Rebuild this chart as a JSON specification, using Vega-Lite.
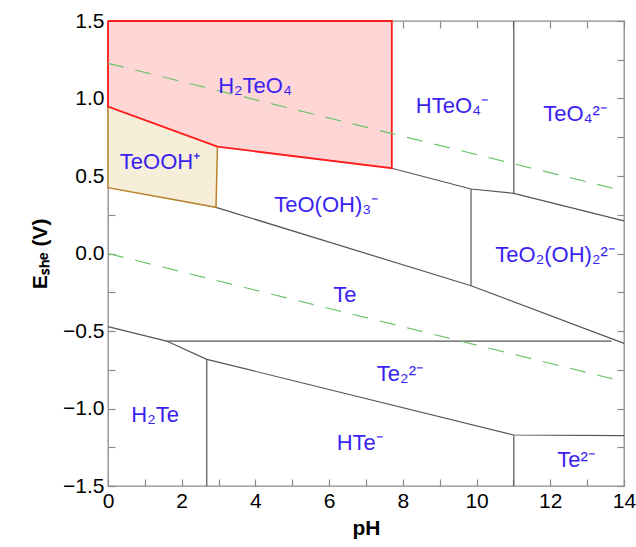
{
  "$schema": "https://vega.github.io/schema/vega-lite/v6.json",
  "width": 516,
  "height": 465,
  "autosize": {"type": "none"},
  "padding": {"left": 108, "top": 21, "right": 12, "bottom": 61},
  "config": {
    "font": "Liberation Sans",
    "view": {"stroke": "#8a8a8a", "strokeWidth": 1.3},
    "axis": {
      "grid": false,
      "domain": false,
      "tickColor": "#8a8a8a",
      "tickWidth": 1.2,
      "tickSize": 7,
      "offset": -7,
      "labelFlush": false,
      "labelFontSize": 21,
      "labelColor": "#000000",
      "labelFont": "Liberation Sans",
      "titleFont": "Liberation Sans",
      "titleFontSize": 21,
      "titleFontWeight": "bold",
      "titleColor": "#000000"
    }
  },
  "datasets": {
    "areas": [
      {"region": "H2TeO4", "pH": 0, "lo": 0.947, "hi": 1.5},
      {"region": "H2TeO4", "pH": 2.97, "lo": 0.689, "hi": 1.5},
      {"region": "H2TeO4", "pH": 7.7, "lo": 0.55, "hi": 1.5},
      {"region": "TeOOH", "pH": 0, "lo": 0.425, "hi": 0.947},
      {"region": "TeOOH", "pH": 2.95, "lo": 0.298, "hi": 0.689}
    ],
    "bounds": [
      {"seg": "g1", "kind": "gray", "i": 1, "pH": 2.93, "E": 0.298},
      {"seg": "g1", "kind": "gray", "i": 2, "pH": 9.85, "E": -0.208},
      {"seg": "g1", "kind": "gray", "i": 3, "pH": 14, "E": -0.58},
      {"seg": "g2", "kind": "gray", "i": 1, "pH": 9.85, "E": -0.208},
      {"seg": "g2", "kind": "gray", "i": 2, "pH": 9.85, "E": 0.416},
      {"seg": "g3", "kind": "gray", "i": 1, "pH": 7.7, "E": 0.55},
      {"seg": "g3", "kind": "gray", "i": 2, "pH": 9.85, "E": 0.416},
      {"seg": "g3", "kind": "gray", "i": 3, "pH": 11.01, "E": 0.388},
      {"seg": "g3", "kind": "gray", "i": 4, "pH": 14, "E": 0.21},
      {"seg": "g4", "kind": "gray", "i": 1, "pH": 11.01, "E": 0.388},
      {"seg": "g4", "kind": "gray", "i": 2, "pH": 11.01, "E": 1.5},
      {"seg": "g5", "kind": "gray", "i": 1, "pH": 1.59, "E": -0.565},
      {"seg": "g5", "kind": "gray", "i": 2, "pH": 13.66, "E": -0.565},
      {"seg": "g6", "kind": "gray", "i": 1, "pH": 0, "E": -0.472},
      {"seg": "g6", "kind": "gray", "i": 2, "pH": 1.59, "E": -0.565},
      {"seg": "g6", "kind": "gray", "i": 3, "pH": 2.68, "E": -0.683},
      {"seg": "g6", "kind": "gray", "i": 4, "pH": 11.01, "E": -1.171},
      {"seg": "g6", "kind": "gray", "i": 5, "pH": 14, "E": -1.175},
      {"seg": "g7", "kind": "gray", "i": 1, "pH": 2.68, "E": -0.683},
      {"seg": "g7", "kind": "gray", "i": 2, "pH": 2.68, "E": -1.5},
      {"seg": "g8", "kind": "gray", "i": 1, "pH": 11.01, "E": -1.171},
      {"seg": "g8", "kind": "gray", "i": 2, "pH": 11.01, "E": -1.5},
      {"seg": "b1", "kind": "brown", "i": 1, "pH": 2.97, "E": 0.689},
      {"seg": "b1", "kind": "brown", "i": 2, "pH": 2.93, "E": 0.298},
      {"seg": "b1", "kind": "brown", "i": 3, "pH": 0, "E": 0.425},
      {"seg": "b1", "kind": "brown", "i": 4, "pH": 0, "E": 0.947},
      {"seg": "r1", "kind": "red", "i": 1, "pH": 0, "E": 1.5},
      {"seg": "r1", "kind": "red", "i": 2, "pH": 0, "E": 0.947},
      {"seg": "r1", "kind": "red", "i": 3, "pH": 2.97, "E": 0.689},
      {"seg": "r1", "kind": "red", "i": 4, "pH": 7.7, "E": 0.55},
      {"seg": "r1", "kind": "red", "i": 5, "pH": 7.7, "E": 1.5},
      {"seg": "r1", "kind": "red", "i": 6, "pH": 0, "E": 1.5}
    ],
    "water": [
      {"line": "O2", "pH": 0, "E": 1.227},
      {"line": "O2", "pH": 14, "E": 0.403},
      {"line": "H2", "pH": 0, "E": 0.0},
      {"line": "H2", "pH": 14, "E": -0.827}
    ],
    "labels": [
      {"name": "H₂TeO₄", "pH": 3.99, "E": 1.08},
      {"name": "HTeO₄⁻", "pH": 9.33, "E": 0.95},
      {"name": "TeO₄²⁻", "pH": 12.67, "E": 0.9},
      {"name": "TeOOH⁺", "pH": 1.41, "E": 0.59},
      {"name": "TeO(OH)₃⁻", "pH": 5.92, "E": 0.31},
      {"name": "TeO₂(OH)₂²⁻", "pH": 12.13, "E": -0.01},
      {"name": "Te", "pH": 6.43, "E": -0.27},
      {"name": "Te₂²⁻", "pH": 7.92, "E": -0.78},
      {"name": "H₂Te", "pH": 1.28, "E": -1.04},
      {"name": "HTe⁻", "pH": 6.83, "E": -1.22},
      {"name": "Te²⁻", "pH": 12.7, "E": -1.33}
    ]
  },
  "layer": [
    {
      "data": {"name": "areas"},
      "mark": {"type": "area", "opacity": 1},
      "encoding": {
        "x": {
          "field": "pH", "type": "quantitative",
          "scale": {"domain": [0, 14], "nice": false, "zero": false},
          "axis": {
            "orient": "bottom", "title": "pH",
            "values": [0,1,2,3,4,5,6,7,8,9,10,11,12,13,14],
            "labelExpr": "datum.value % 2 === 0 ? datum.label : ''",
            "labelPadding": 4, "titlePadding": 6
          }
        },
        "y": {
          "field": "lo", "type": "quantitative",
          "scale": {"domain": [-1.5, 1.5], "nice": false, "zero": false},
          "axis": {
            "orient": "left", "title": "Eₛₕₑ (V)",
            "values": [-1.5,-1.25,-1,-0.75,-0.5,-0.25,0,0.25,0.5,0.75,1,1.25,1.5],
            "format": ".1f",
            "labelExpr": "abs(datum.value * 2 - round(datum.value * 2)) < 0.001 ? datum.label : ''",
            "labelPadding": 4, "titlePadding": 12
          }
        },
        "y2": {"field": "hi"},
        "fill": {
          "field": "region", "type": "nominal",
          "scale": {"domain": ["H2TeO4", "TeOOH"], "range": ["#ffd6d6", "#f6eed9"]},
          "legend": null
        }
      }
    },
    {
      "data": {"name": "bounds"},
      "mark": {"type": "line"},
      "encoding": {
        "x": {"field": "pH", "type": "quantitative", "axis": null},
        "y": {"field": "E", "type": "quantitative", "axis": null},
        "detail": {"field": "seg"},
        "order": {"field": "i", "type": "quantitative"},
        "stroke": {
          "field": "kind", "type": "nominal",
          "scale": {"domain": ["gray", "brown", "red"], "range": ["#555555", "#b8822c", "#ff1a1a"]},
          "legend": null
        },
        "strokeWidth": {
          "field": "kind", "type": "nominal",
          "scale": {"domain": ["gray", "brown", "red"], "range": [1.2, 1.8, 1.8]},
          "legend": null
        }
      }
    },
    {
      "data": {"name": "water"},
      "mark": {"type": "line", "stroke": "#6cc36c", "strokeWidth": 1.2, "strokeDash": [16, 12]},
      "encoding": {
        "x": {"field": "pH", "type": "quantitative", "axis": null},
        "y": {"field": "E", "type": "quantitative", "axis": null},
        "detail": {"field": "line"}
      }
    },
    {
      "data": {"name": "labels"},
      "mark": {"type": "text", "fontSize": 22, "color": "#3a1ff0", "font": "Liberation Sans"},
      "encoding": {
        "x": {"field": "pH", "type": "quantitative", "axis": null},
        "y": {"field": "E", "type": "quantitative", "axis": null},
        "text": {"field": "name"}
      }
    },
    {
      "data": {"name": "labels"},
      "mark": {"type": "point", "opacity": 0},
      "encoding": {
        "x": {
          "field": "pH", "type": "quantitative",
          "axis": {"orient": "top", "title": null, "labels": false,
                   "values": [0,1,2,3,4,5,6,7,8,9,10,11,12,13,14]}
        },
        "y": {
          "field": "E", "type": "quantitative",
          "axis": {"orient": "right", "title": null, "labels": false,
                   "values": [-1.5,-1.25,-1,-0.75,-0.5,-0.25,0,0.25,0.5,0.75,1,1.25,1.5]}
        }
      }
    }
  ],
  "resolve": {"axis": {"x": "independent", "y": "independent"}}
}
